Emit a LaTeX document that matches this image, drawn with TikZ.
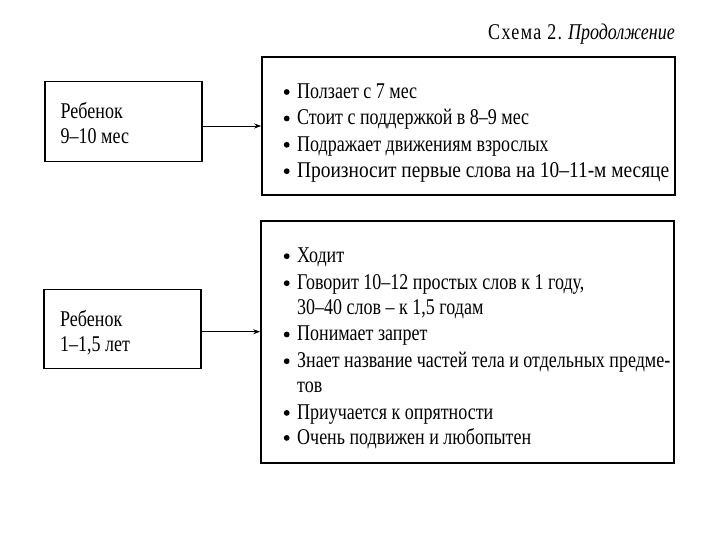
\documentclass[tikz,border=0pt]{standalone}
\usepackage{fontspec}
\usepackage{graphicx}
\setmainfont[FakeStretch=0.80]{Liberation Serif}
\usetikzlibrary{arrows.meta}
\begin{document}
\begin{tikzpicture}[x=1pt,y=-1pt,
  box/.style={draw, line width=1.6pt, inner sep=0pt},
  lbl/.style={anchor=base west, inner sep=0pt, font=\fontsize{22.5}{26}\selectfont},
  conn/.style={-{Stealth[length=7pt,width=5pt]}, line width=0.9pt},
  dot/.style={fill=black}]
\useasboundingbox (0,0) rectangle (720,540);
\fill[white] (0,0) rectangle (720,540);
% header
\node[lbl, anchor=base east] (hdr) at (675,39.5) {{\addfontfeature{LetterSpace=6}Схема 2.} \textit{Продолжение}};
% left boxes
\node[box, minimum width=157pt, minimum height=80pt] (a1) at (123.2,121.7) {};
\node[box, minimum width=157pt, minimum height=79pt] (a2) at (122.3,328.8) {};
\node[lbl] (a1t1) at (60.5,118.3) {Ребенок};
\node[lbl] (a1t2) at (60.5,143.3) {9–10 мес};
\node[lbl] (a2t1) at (60,326.6) {Ребенок};
\node[lbl] (a2t2) at (60,351.6) {1–1,5 лет};
% right boxes
\node[box, minimum width=413pt, minimum height=138pt] (b1) at (468.5,126) {};
\node[box, minimum width=413pt, minimum height=242pt] (b2) at (467.5,342) {};
\node[lbl] (b1l1) at (297,98.3) {Ползает с 7 мес};
\node[lbl] (b1l2) at (297,124.8) {Стоит с поддержкой в 8–9 мес};
\node[lbl] (b1l3) at (297,151.1) {Подражает движениям взрослых};
\node[lbl] (b1l4) at (297,177.5) {\resizebox{372pt}{\height}{Произносит первые слова на 10–11-м месяце}};
\node[lbl] (b2l1) at (297,262.5) {Ходит};
\node[lbl] (b2l2) at (297,289.5) {Говорит 10–12 простых слов к 1 году,};
\node[lbl] (b2l3) at (297,314.2) {30–40 слов – к 1,5 годам};
\node[lbl] (b2l4) at (297,340.8) {Понимает запрет};
\node[lbl] (b2l5) at (297,367.5) {Знает название частей тела и отдельных предме-};
\node[lbl] (b2l6) at (297,392.5) {тов};
\node[lbl] (b2l7) at (297,419.2) {Приучается к опрятности};
\node[lbl] (b2l8) at (297,444.2) {Очень подвижен и любопытен};
% bullets
\foreach \y in {98.3,124.8,151.1,177.5,262.5,289.5,340.8,367.5,419.2,444.2}
  \fill[dot] (286.7,\y-6.3) circle (2.9pt);
% connectors
\coordinate (y1) at (0,126);
\coordinate (y2) at (0,331.7);
\draw[conn] (a1.east |- y1) -- (b1.west |- y1);
\draw[conn] (a2.east |- y2) -- (b2.west |- y2);
\end{tikzpicture}
\end{document}
